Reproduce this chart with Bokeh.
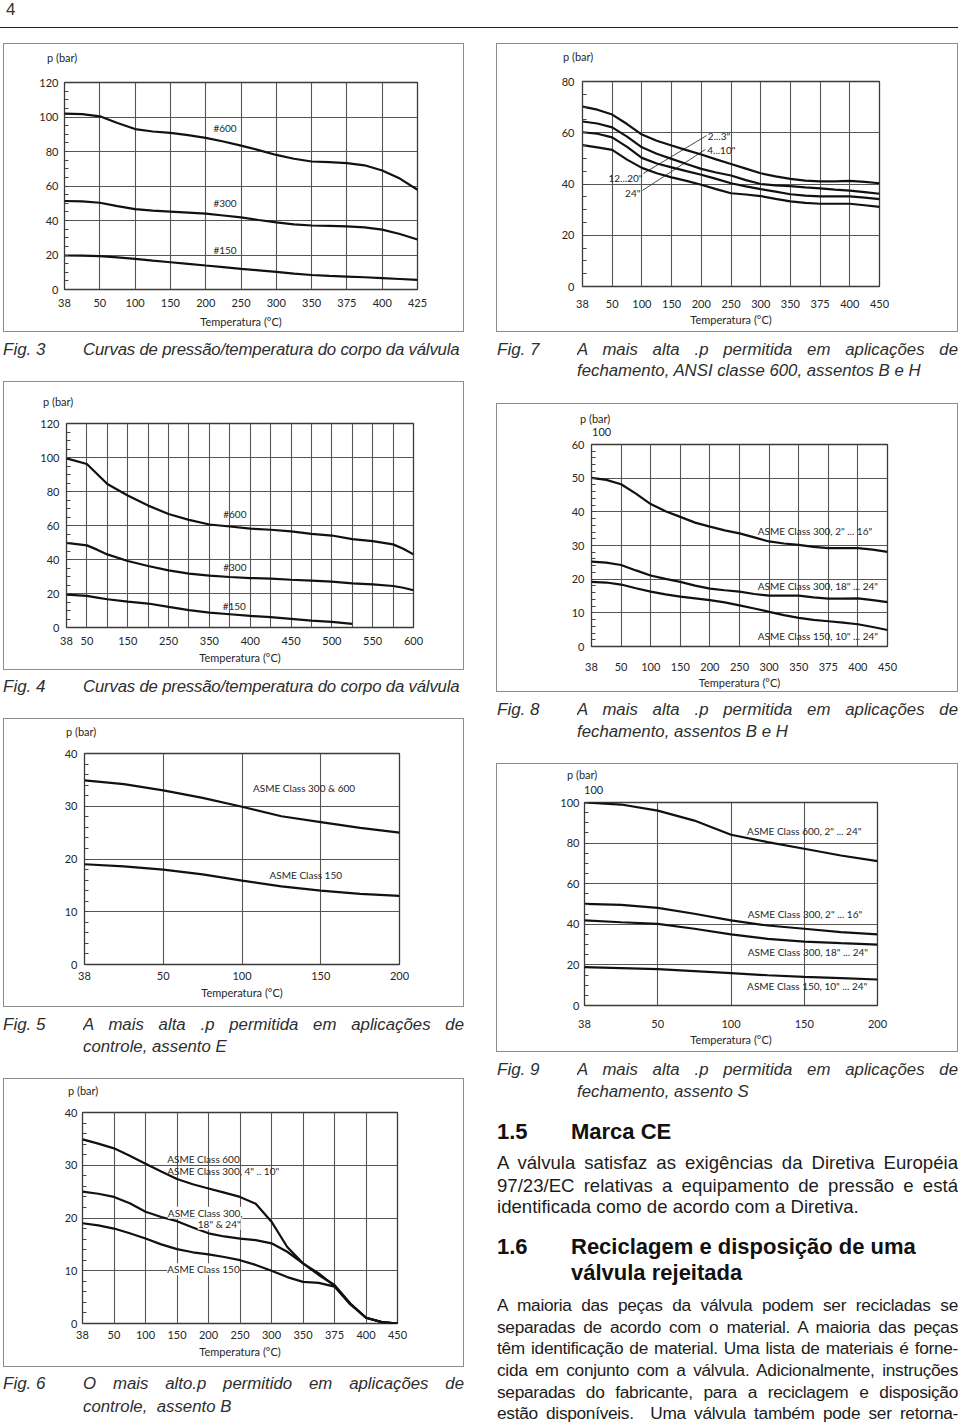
from bokeh.plotting import figure
from bokeh.models import Range1d, FixedTicker, SingleIntervalTicker, Label, Div, Spacer
from bokeh.layouts import column, row
from bokeh.embed import file_html
from bokeh.resources import INLINE

# ---------------------------------------------------------------- data
# Fig. 3
f3_temps = ["38", "50", "100", "150", "200", "250", "300", "350", "375", "400", "425"]
f3_x = [0, 0.5, 1, 1.5, 2, 2.5, 3, 3.5, 4, 4.5, 5, 5.5, 6, 6.5, 7, 7.5, 8, 8.5, 9, 9.5, 10]
f3_600 = [102, 101.7, 100.4, 96.5, 93, 91.6, 90.8, 89.5, 87.9, 85.8, 83.4, 80.8, 78, 75.8, 74.2, 73.8, 73.3, 72, 69, 64.3, 57.8]
f3_300 = [51.3, 51.1, 50.3, 48.3, 46.6, 45.7, 45.2, 44.6, 44, 42.9, 41.8, 40.3, 38.9, 37.8, 37.1, 36.9, 36.6, 36, 34.7, 32.2, 29]
f3_150 = [19.7, 19.6, 19.3, 18.6, 17.7, 16.7, 15.8, 14.9, 13.9, 13.0, 12.0, 11.1, 10.2, 9.2, 8.4, 7.9, 7.5, 7.1, 6.6, 6.1, 5.6]

# Fig. 4
f4_temps = ["38", "50", "100", "150", "200", "250", "300", "350", "375", "400", "425",
            "450", "475", "500", "525", "550", "575", "600"]
f4_shown = ["38", "50", "150", "250", "350", "400", "450", "500", "550", "600"]
f4_xa = [0, 1, 1.5, 2, 3, 4, 5, 6, 7, 8, 9, 10, 11, 12, 13, 14, 15, 16, 16.5, 17]
f4_600 = [99.5, 96.2, 90.3, 84.4, 77.6, 71.7, 66.8, 63.3, 60.6, 59.4, 58.2, 57.5, 56.5, 55.1, 54.1, 52, 50.8, 48.9, 46.3, 43]
f4_300 = [49.8, 48.3, 45.8, 43, 39.1, 36.2, 33.6, 31.7, 30.5, 29.7, 29.1, 28.7, 28.1, 27.6, 27, 26, 25.4, 24.4, 23.4, 21.9]
f4_xb = [0, 1, 1.5, 2, 3, 4, 5, 6, 7, 8, 9, 10, 11, 12, 13, 14]
f4_150 = [19.3, 18.6, 17.6, 16.6, 15.2, 14.1, 12.1, 10.2, 8.8, 7.8, 6.8, 6.1, 5.1, 4.1, 3.3, 2.1]

# Fig. 5
f5_temps = ["38", "50", "100", "150", "200"]
f5_x = [0, 0.5, 1, 1.5, 2, 2.5, 3, 3.5, 4]
f5_300_600 = [34.9, 34.2, 33, 31.6, 29.9, 28.1, 27, 25.9, 25]
f5_150 = [19, 18.6, 18, 17.1, 15.9, 14.8, 14, 13.4, 13]

# Fig. 6
f6_temps = ["38", "50", "100", "150", "200", "250", "300", "350", "375", "400", "450"]
f6_x = [0, 0.5, 1, 1.5, 2, 2.5, 3, 3.5, 4, 4.5, 5, 5.5, 6, 6.5, 7, 7.5, 8, 8.5, 9, 9.5, 10]
f6_600 = [34.9, 34.1, 33.2, 31.8, 30.3, 28.8, 27.4, 26.4, 25.6, 24.8, 24, 22.7, 19.3, 14.5, 11.4, 9.2, 7.3, 3.8, 1.1, 0.25, 0]
f6_300 = [25, 24.6, 24, 22.8, 21.2, 20.2, 19.4, 18.2, 17.1, 16.5, 16.1, 15.8, 15.2, 13.6, 11.4, 9.5, 7.1, 3.8, 1.1, 0.25, 0]
f6_150 = [19, 18.6, 18, 17.1, 16.1, 15, 14.1, 13.5, 13.1, 12.6, 12, 11.1, 10, 8.8, 7.9, 7.7, 7, 3.6, 1.1, 0.25, 0]

# Fig. 7
f7_temps = ["38", "50", "100", "150", "200", "250", "300", "350", "375", "400", "450"]
f7_x = [0, 0.5, 1, 1.5, 2, 2.5, 3, 3.5, 4, 4.5, 5, 5.5, 6, 6.5, 7, 7.5, 8, 8.5, 9, 9.5, 10]
f7_2_3 = [70.2, 69, 67.1, 63.4, 59.3, 56.9, 55, 53.2, 51.5, 49.6, 47.8, 46, 44.2, 43, 42, 41.3, 41, 41, 41.2, 40.8, 40.3]
f7_4_10 = [64.4, 63.6, 62.1, 58.5, 54.3, 51.8, 49.8, 47.8, 45.9, 44.5, 43.3, 41.5, 40, 39.5, 39.2, 38.7, 38.3, 37.8, 37.4, 36.8, 36.2]
f7_12_20 = [60.2, 59.6, 58.2, 54.5, 50.2, 48, 46.5, 45, 43.6, 42, 40.3, 39.1, 38, 37, 36, 35.5, 35.2, 35.2, 35.2, 34.7, 34.1]
f7_24 = [55.2, 54.3, 53.3, 49.5, 46.3, 44.2, 42.6, 41.2, 39.7, 38, 36.4, 35.9, 35.3, 34.2, 33.2, 32.6, 32.3, 32.3, 32.3, 31.7, 31.1]

# Fig. 8
f8_temps = ["38", "50", "100", "150", "200", "250", "300", "350", "375", "400", "450"]
f8_x = [0, 0.5, 1, 1.5, 2, 2.5, 3, 3.5, 4, 4.5, 5, 5.5, 6, 6.5, 7, 7.5, 8, 8.5, 9, 9.5, 10]
f8_300_2_16 = [50.1, 49.5, 48.2, 45.4, 42.3, 40.2, 38.5, 36.8, 35.6, 34.5, 33.6, 32.4, 31.2, 30.6, 30.2, 29.6, 29.2, 29.2, 29.2, 28.8, 28.1]
f8_300_18_24 = [25.2, 24.9, 24.2, 22.6, 21.1, 20.1, 19.2, 18.1, 17.2, 16.7, 16.3, 15.6, 15.1, 15.1, 15.1, 14.6, 14.2, 14.2, 14.3, 13.8, 13.2]
f8_150_10_24 = [19.2, 19, 18.4, 17.3, 16.3, 15.5, 14.8, 14.3, 13.8, 13.1, 12.2, 11.3, 10.3, 9.3, 8.5, 7.9, 7.5, 7.1, 6.6, 5.8, 4.9]

# Fig. 9
f9_temps = ["38", "50", "100", "150", "200"]
f9_x = [0, 0.5, 1, 1.5, 2, 2.5, 3, 3.5, 4]
f9_600 = [100, 99, 96, 91.1, 84.1, 80.5, 77.2, 73.9, 71.1]
f9_300_2_16 = [50.1, 49.6, 48.1, 45.2, 41.9, 39.4, 37.8, 36.1, 35]
f9_300_18_24 = [41.9, 41, 40.2, 37.8, 35, 32.8, 31.5, 30.7, 30]
f9_150 = [18.9, 18.4, 17.9, 16.9, 15.9, 14.9, 14.1, 13.5, 12.8]

# ---------------------------------------------------------------- style
CF = "Lato"
TC = "#262626"
LINE = "#111111"
BOXLINE = "1px solid #8c8c8c"


def chart(W, temps, shown, ymax, ymajor, nminor, series, labels, margins,
          ystand, xstand, alstand, ptexts, leaders=None):
    """Bordered chart box: a small HTML strip with the 'p (bar)' text on top of the figure."""
    ml, mr, mt, mb = margins
    HIN = 287
    strip_h = mt - 8
    n = len(temps)
    p = figure(width=W, height=HIN - strip_h, x_range=Range1d(0, n - 1), y_range=Range1d(0, ymax),
               min_border_left=ml, min_border_right=mr, min_border_top=8, min_border_bottom=mb,
               output_backend="svg", toolbar_location=None, tools="")
    p.background_fill_color = "white"
    p.border_fill_color = "white"
    p.outline_line_color = "#3a3a3a"
    p.outline_line_width = 1.3

    xa = p.xaxis[0]
    ticks = [temps.index(s) for s in shown]
    xa.ticker = FixedTicker(ticks=ticks)
    xa.major_label_overrides = {i: temps[i] for i in ticks}
    xa.axis_line_color = None
    xa.major_tick_line_color = None
    xa.major_tick_in = 0
    xa.major_tick_out = 0
    xa.minor_tick_line_color = None
    xa.minor_tick_in = 0
    xa.minor_tick_out = 0
    xa.major_label_standoff = xstand
    xa.major_label_text_font = CF
    xa.major_label_text_font_size = "11px"
    xa.major_label_text_color = TC
    xa.axis_label = "Temperatura (°C)"
    xa.axis_label_text_font = CF
    xa.axis_label_text_font_size = "11px"
    xa.axis_label_text_font_style = "normal"
    xa.axis_label_text_color = TC
    xa.axis_label_standoff = alstand

    ya = p.yaxis[0]
    yt = SingleIntervalTicker(interval=ymajor, num_minor_ticks=nminor)
    ya.ticker = yt
    ya.axis_line_color = None
    ya.major_tick_in = 0
    ya.major_tick_out = 0
    ya.minor_tick_in = 4
    ya.minor_tick_out = 0
    ya.minor_tick_line_color = "#444444"
    ya.major_label_standoff = ystand
    ya.major_label_text_font = CF
    ya.major_label_text_font_size = "11px"
    ya.major_label_text_color = TC

    p.xgrid.ticker = FixedTicker(ticks=list(range(n)))
    p.xgrid.grid_line_color = "#555555"
    p.xgrid.grid_line_width = 1.1
    p.ygrid.ticker = yt
    p.ygrid.grid_line_color = "#555555"
    p.ygrid.grid_line_width = 1.1

    if leaders:
        x0, y0, x1, y1 = leaders
        p.segment(x0, y0, x1, y1, line_color="#333333", line_width=0.9)

    for xs, ys in series:
        p.line(xs, ys, line_color=LINE, line_width=2.2)

    for (lx, ly, txt, align, bg) in labels:
        p.add_layout(Label(x=lx, y=ly, text=txt, text_font=CF, text_font_size="10px",
                           text_color=TC, text_align=align, text_baseline="middle",
                           background_fill_color="white" if bg else None,
                           background_fill_alpha=1.0 if bg else 0.0))

    inner = ""
    for (lft, ctr, txt) in ptexts:
        inner += (f'<div style="position:absolute;left:{lft}px;top:{ctr - 7}px;height:14px;'
                  f'line-height:14px;font-family:Lato,sans-serif;font-size:11px;color:{TC};'
                  f'white-space:nowrap;">{txt}</div>')
    strip = Div(text=f'<div style="position:relative;width:{W}px;height:{strip_h}px;">{inner}</div>',
                width=W, height=strip_h, margin=0)
    return column(strip, p, spacing=0,
                  styles={"border": BOXLINE, "box-sizing": "content-box", "background": "white"})


f3 = chart(459, f3_temps, f3_temps, 120, 20, 4,
           [(f3_x, f3_600), (f3_x, f3_300), (f3_x, f3_150)],
           [(4.22, 93.6, "#600", "left", False), (4.22, 50.3, "#300", "left", False),
            (4.22, 23.1, "#150", "left", False)],
           (60, 46, 38, 42), 6, 9, 5, [(43, 14, "p (bar)")])

f4 = chart(459, f4_temps, f4_shown, 120, 20, 4,
           [(f4_xa, f4_600), (f4_xa, f4_300), (f4_xb, f4_150)],
           [(7.68, 66.8, "#600", "left", False), (7.68, 35.6, "#300", "left", False),
            (7.65, 12.5, "#150", "left", False)],
           (62, 50, 41, 42), 7, 9, 3, [(39, 20, "p (bar)")])

f5 = chart(459, f5_temps, f5_temps, 40, 10, 5,
           [(f5_x, f5_300_600), (f5_x, f5_150)],
           [(2.14, 33.4, "ASME Class 300 & 600", "left", False),
            (2.35, 17.0, "ASME Class 150", "left", False)],
           (80, 64, 34, 42), 7, 7, 3, [(62, 13, "p (bar)")])

f6 = chart(459, f6_temps, f6_temps, 40, 10, 5,
           [(f6_x, f6_600), (f6_x, f6_300), (f6_x, f6_150)],
           [(2.69, 31.1, "ASME Class 600", "left", False),
            (2.69, 28.9, 'ASME Class 300, 4" .. 10"', "left", False),
            (2.71, 21.0, "ASME Class 300,", "left", True),
            (3.66, 18.9, '18" & 24"', "left", True),
            (2.69, 10.3, "ASME Class 150", "left", True)],
           (78, 66, 33, 43), 5, 7, 3, [(64, 12, "p (bar)")])

f7 = chart(460, f7_temps, f7_temps, 80, 20, 4,
           [(f7_x, f7_2_3), (f7_x, f7_4_10), (f7_x, f7_12_20), (f7_x, f7_24)],
           [(4.22, 58.9, '2...3"', "left", False), (4.2, 53.1, '4...10"', "left", False),
            (2.02, 42.5, '12...20"', "right", False), (1.95, 36.3, '24"', "right", False)],
           (85, 78, 37, 45), 8, 13, 2, [(66, 13, "p (bar)")],
           leaders=([4.18, 4.14], [58.9, 53.5], [2.05, 2.02], [44.1, 37.5]))

f8 = chart(460, f8_temps, f8_temps, 60, 10, 5,
           [(f8_x, f8_300_2_16), (f8_x, f8_300_18_24), (f8_x, f8_150_10_24)],
           [(5.62, 34.3, 'ASME Class 300,  2" ... 16"', "left", False),
            (5.62, 17.9, 'ASME Class 300, 18" ... 24"', "left", False),
            (5.62, 3.15, 'ASME Class 150, 10" ... 24"', "left", False)],
           (94, 70, 40, 44), 7, 16, 2, [(83, 15, "p (bar)"), (95, 28, "100")])

f9 = chart(460, f9_temps, f9_temps, 100, 20, 4,
           [(f9_x, f9_600), (f9_x, f9_300_2_16), (f9_x, f9_300_18_24), (f9_x, f9_150)],
           [(2.22, 86.2, 'ASME Class 600, 2" ... 24"', "left", False),
            (2.23, 45.2, 'ASME Class 300, 2" ... 16"', "left", False),
            (2.23, 26.6, 'ASME Class 300, 18" ... 24"', "left", False),
            (2.22, 9.4, 'ASME Class 150, 10" ... 24"', "left", False)],
           (87, 80, 38, 46), 5, 14, 2, [(70, 11, "p (bar)"), (87, 26, "100")])

# ---------------------------------------------------------------- text blocks
CAP = "font-family:'Liberation Sans',Arial,sans-serif;font-style:italic;color:#2e2e2e;"
BODY = "font-family:'Liberation Sans',Arial,sans-serif;color:#1c1c1c;"
HEAD = "font-family:'Liberation Sans',Arial,sans-serif;font-weight:bold;color:#111;"
P2 = "font-family:'Liberation Sans',Arial,sans-serif;color:#1c1c1c;letter-spacing:-0.3px;"


def line(left, center, text, size, style, width=None, justify=False, lh=22, extra=""):
    top = center - lh / 2
    w = f"width:{width}px;" if width else ""
    j = "text-align:justify;text-align-last:justify;overflow:hidden;" if justify else "white-space:nowrap;"
    return (f'<div style="position:absolute;left:{left}px;top:{top}px;{w}height:{lh}px;'
            f'line-height:{lh}px;font-size:{size}px;{j}{style}{extra}">{text}</div>')


def block(w, h, inner):
    return Div(text=f'<div style="position:relative;width:{w}px;height:{h}px;">{inner}</div>',
               width=w, height=h, margin=0)


def caption_single(h, fig, text, center):
    inner = (line(0, center, fig, 17, CAP) +
             line(80, center, text, 16.8, CAP, extra="letter-spacing:-0.2px;"))
    return block(461, h, inner)


def caption_two(w, h, fig, l1, l2, c1, c2, figleft=0, textleft=80):
    inner = (line(figleft, c1, fig, 17, CAP) +
             line(textleft, c1, l1, 16.8, CAP, width=381, justify=True) +
             line(textleft, c2, l2, 16.8, CAP))
    return block(w, h, inner)


header = block(960, 40,
               '<div style="position:absolute;left:6px;top:1px;font-family:\'Liberation Sans\',Arial,sans-serif;'
               'font-size:17px;line-height:17px;color:#333;">4</div>'
               '<div style="position:absolute;left:0;top:27px;width:958px;height:0;border-top:1px solid #222;"></div>')

cap3 = caption_single(49, "Fig. 3", "Curvas de pressão/temperatura do corpo da válvula", 18)
cap4 = caption_single(48, "Fig. 4", "Curvas de pressão/temperatura do corpo da válvula", 17)
cap5 = caption_two(461, 71, "Fig. 5", "A mais alta .p permitida em aplicações de", "controle, assento E", 18, 40)
cap6 = caption_two(461, 57, "Fig. 6", "O mais alto.p permitido em aplicações de", "controle,&nbsp; assento B", 17, 40)
cap7 = caption_two(462, 71, "Fig. 7", "A mais alta .p permitida em aplicações de",
                   "fechamento, ANSI classe 600, assentos B e H", 18, 39, figleft=1, textleft=81)
cap8 = caption_two(462, 71, "Fig. 8", "A mais alta .p permitida em aplicações de",
                   "fechamento, assentos B e H", 18, 40, figleft=1, textleft=81)

para1 = ["A válvula satisfaz as exigências da Diretiva Européia",
         "97/23/EC relativas a equipamento de pressão e está",
         "identificada como de acordo com a Diretiva."]
para2 = ["A maioria das peças da válvula podem ser recicladas se",
         "separadas de acordo com o material. A maioria das peças",
         "têm identificação de material. Uma lista de materiais é forne-",
         "cida em conjunto com a válvula. Adicionalmente, instruções",
         "separadas do fabricante, para a reciclagem e disposição",
         "estão disponíveis.&nbsp; Uma válvula também pode ser retorna-"]

inner = (line(1, 18, "Fig. 9", 17, CAP) +
         line(81, 18, "A mais alta .p permitida em aplicações de", 16.8, CAP, width=381, justify=True) +
         line(81, 40, "fechamento, assento S", 16.8, CAP) +
         line(1, 80, "1.5", 22, HEAD, lh=26) + line(75, 80, "Marca CE", 22, HEAD, lh=26) +
         line(1, 195, "1.6", 22, HEAD, lh=26) +
         line(75, 195, "Reciclagem e disposição de uma", 22, HEAD, lh=26) +
         line(75, 221, "válvula rejeitada", 22, HEAD, lh=26))
for i, (c, t) in enumerate(zip([111, 134, 155], para1)):
    inner += line(1, c, t, 18.6, BODY, width=461 if i < 2 else None, justify=i < 2)
for c, t in zip([253, 274.7, 296.3, 318, 339.7, 360.7], para2):
    inner += line(1, c, t, 17.3, P2, width=461, justify=True)
text9 = block(462, 372, inner)

left = column(Spacer(width=461, height=3), f3, cap3, f4, cap4, f5, cap5, f6, cap6, spacing=0)
right = column(Spacer(width=462, height=3), f7, cap7, f8, cap8, f9, text9, spacing=0)
page = column(header,
              row(Spacer(width=3, height=1), left, Spacer(width=32, height=1), right,
                  Spacer(width=2, height=1), spacing=0),
              spacing=0)

open("out.html", "w").write(file_html(page, INLINE))
